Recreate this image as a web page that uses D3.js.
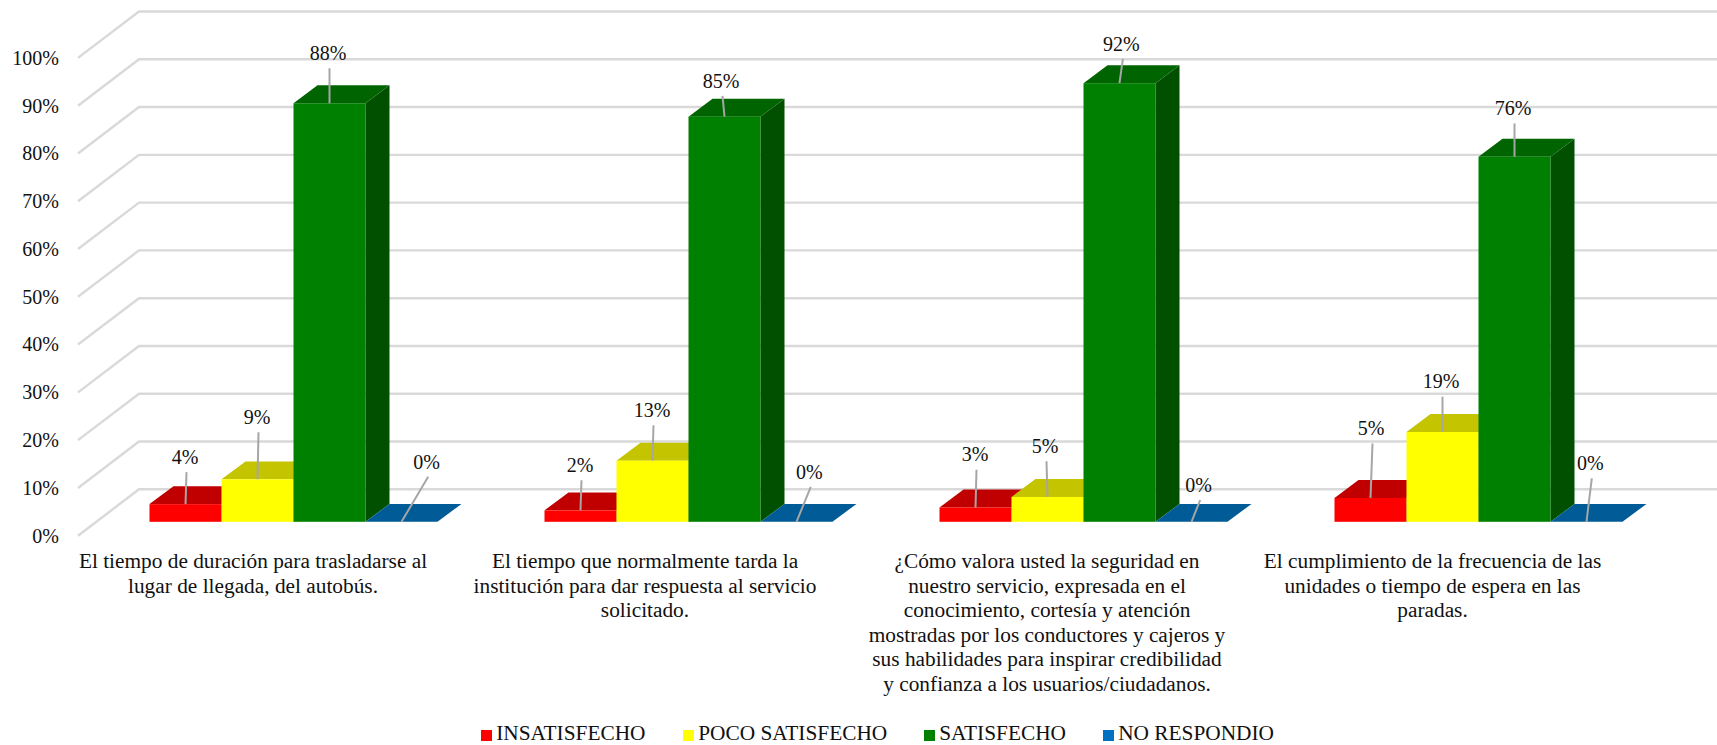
<!DOCTYPE html>
<html>
<head>
<meta charset="utf-8">
<script src="https://cdn.jsdelivr.net/npm/d3@7"></script>
<style>
  html, body { margin: 0; padding: 0; background: #fff; }
  svg { display: block; }
  text { font-family: "Liberation Serif", serif; fill: #111; }
</style>
</head>
<body>
<div id="chart"></div>
<script>
// data
var categoryLines = [
  ["El tiempo de duración para trasladarse al", "lugar de llegada, del autobús."],
  ["El tiempo que normalmente tarda la", "institución para dar respuesta al servicio", "solicitado."],
  ["¿Cómo valora usted la seguridad en", "nuestro servicio, expresada en el", "conocimiento, cortesía y atención", "mostradas por los conductores y cajeros y", "sus habilidades para inspirar credibilidad", "y confianza a los usuarios/ciudadanos."],
  ["El cumplimiento de la frecuencia de las", "unidades o tiempo de espera en las", "paradas."]
];
var seriesNames = ["INSATISFECHO", "POCO SATISFECHO", "SATISFECHO", "NO RESPONDIO"];
var insatisfecho = [3.7, 2.4, 3.0, 5.0];
var pocoSatisfecho = [8.9, 12.8, 5.2, 18.8];
var satisfecho = [87.6, 84.8, 91.8, 76.4];
var noRespondio = [0, 0, 0, 0];
var yTicks = [0, 10, 20, 30, 40, 50, 60, 70, 80, 90, 100];

var seriesValues = [insatisfecho, pocoSatisfecho, satisfecho, noRespondio];

var width = 1717, height = 745;

// colours per series: front, top, side
var frontColor = ["#ff0000", "#ffff00", "#008000", "#005b96"];
var topColor = ["#c00000", "#c4c400", "#006400", "#005b96"];
var sideColor = ["#a00000", "#a0a000", "#005000", "#004a7a"];
var legendColor = ["#ff0000", "#ffff00", "#008000", "#0070c0"];

// leader line over the bar top, per group and series
var leaderLift = [
  [32, 47, 35, 45],
  [30, 35.4, 20.7, 35],
  [37.7, 35.7, 24.3, 21.8],
  [54.4, 35.3, 33.3, 43.5]
];
var leaderLean = [
  [1, 1, 0, 26.7],
  [1, 1, -2, 14.3],
  [1, -1, 3.4, 8.7],
  [2, 0, 0, 5.3]
];

var svg = d3.select("#chart").append("svg")
  .attr("width", width)
  .attr("height", height);

// the box of the 3D floor
var wallDx = 61, wallDy = -46.4;
var barDx = 24, barDy = -17.9;
var floorFrontX = 78;

var y = d3.scaleLinear().domain([0, 100]).range([535.7, 57.9]);
var yBar = d3.scaleLinear().domain([0, 100]).range([521.8, 44]);

var x0 = d3.scaleBand().domain(d3.range(4)).range([96, 1676]).paddingInner(0.2709).paddingOuter(0.13545);
var x1 = d3.scaleBand().domain(d3.range(4)).range([0, x0.bandwidth()]);

// gridlines: side wall then back wall
var grid = svg.append("g").attr("fill", "none").attr("stroke", "#d9d9d9").attr("stroke-width", 2.4);
grid.selectAll("path")
  .data(yTicks)
  .enter()
  .append("path")
  .attr("d", function(d) {
    return d3.line()([
      [floorFrontX, y(d)],
      [floorFrontX + wallDx, y(d) + wallDy],
      [width, y(d) + wallDy]
    ]);
  });

// Y axis
var yAxis = d3.axisLeft(y).tickValues(yTicks).tickSize(0).tickPadding(0)
  .tickFormat(function(d) { return d + "%"; });
var yG = svg.append("g").attr("transform", "translate(59,0)").call(yAxis);
yG.select(".domain").remove();
yG.selectAll("text").style("font-size", "20px").style("font-family", '"Liberation Serif", serif').style("fill", "#111");

// bars
categoryLines.forEach(function(cat, i) {
  var g = svg.append("g").attr("transform", "translate(" + x0(i) + ",0)");
  seriesValues.forEach(function(vals, s) {
    var v = vals[i];
    var xl = x1(s), xr = xl + x1.bandwidth();
    var t = yBar(v), b = yBar(0);
    g.append("path")
      .attr("fill", sideColor[s])
      .attr("d", d3.line()([[xr, t], [xr + barDx, t + barDy], [xr + barDx, b + barDy], [xr, b]]) + "Z");
    g.append("path")
      .attr("fill", topColor[s])
      .attr("d", d3.line()([[xl, t], [xl + barDx, t + barDy], [xr + barDx, t + barDy], [xr, t]]) + "Z");
    g.append("rect")
      .attr("x", xl)
      .attr("y", t)
      .attr("width", x1.bandwidth())
      .attr("height", b - t)
      .attr("fill", frontColor[s]);
  });
});

// value labels with leader lines, on top of every bar
categoryLines.forEach(function(cat, i) {
  var g = svg.append("g").attr("transform", "translate(" + x0(i) + ",0)");
  seriesValues.forEach(function(vals, s) {
    var v = vals[i];
    var xc = x1(s) + x1.bandwidth() / 2;
    var t = yBar(v);
    var lift = leaderLift[i][s];
    var lean = leaderLean[i][s];
    g.append("line")
      .attr("x1", xc).attr("y1", t)
      .attr("x2", xc + lean).attr("y2", t - lift)
      .attr("stroke", "#a6a6a6")
      .attr("stroke-width", 2);
    g.append("text")
      .attr("x", xc + lean - 1.5)
      .attr("y", t - lift - 8.3)
      .attr("text-anchor", "middle")
      .style("font-size", "20px")
      .text(Math.round(v) + "%");
  });
});

// category labels
var categoryCenter = [253, 645, 1047, 1432.5];
categoryLines.forEach(function(lines, i) {
  var t = svg.append("text")
    .attr("text-anchor", "middle")
    .style("font-size", "21.33px");
  t.selectAll("tspan")
    .data(lines)
    .enter()
    .append("tspan")
    .attr("x", categoryCenter[i])
    .attr("y", function(d, j) { return 568 + j * 24.5; })
    .text(function(d) { return d; });
});

// legend
var legendSwatchX = [481, 683, 924, 1103];
var legend = svg.append("g");
seriesNames.forEach(function(name, s) {
  legend.append("rect")
    .attr("x", legendSwatchX[s])
    .attr("y", 730)
    .attr("width", 11)
    .attr("height", 11)
    .attr("fill", legendColor[s]);
  legend.append("text")
    .attr("x", legendSwatchX[s] + 15.2)
    .attr("y", 740.3)
    .style("font-size", "21.33px")
    .text(name);
});
</script>
</body>
</html>
